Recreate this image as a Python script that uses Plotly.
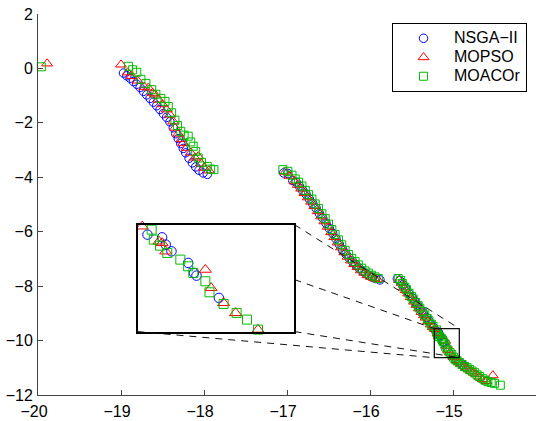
import plotly.graph_objects as go

# ---------------- data ----------------
series_names = ["NSGA\u2212II", "MOPSO", "MOACOr"]

nsga_x = [
    -18.97, -18.93, -18.89, -18.85, -18.81, -18.77, -18.73, -18.69, -18.65, -18.61,
    -18.57, -18.53, -18.49, -18.45, -18.41, -18.37, -18.34, -18.31, -18.28, -18.25,
    -18.22, -18.18, -18.14, -18.10, -18.06, -18.01, -17.96,
    -17.04, -16.99, -16.93, -16.89, -16.85, -16.81, -16.77, -16.73, -16.69, -16.65,
    -16.61, -16.57, -16.53, -16.49, -16.45, -16.41, -16.37, -16.33, -16.29, -16.25,
    -16.21, -16.17, -16.13, -16.09, -16.05, -16.01, -15.97, -15.93, -15.88,
    -15.67, -15.64, -15.60, -15.57, -15.53, -15.49, -15.46, -15.43, -15.39, -15.36,
    -15.32, -15.29, -15.26, -15.235,
    -15.206, -15.178, -15.171, -15.160, -15.128, -15.117, -15.112, -15.069,
    -14.97, -14.93, -14.89, -14.86,
]
nsga_y = [
    -0.17, -0.27, -0.36, -0.48, -0.58, -0.70, -0.84, -0.97, -1.10, -1.24,
    -1.37, -1.51, -1.66, -1.80, -1.96, -2.18, -2.40, -2.58, -2.76, -2.94,
    -3.10, -3.30, -3.47, -3.62, -3.74, -3.84, -3.89,
    -3.84, -3.86, -4.12, -4.18, -4.33, -4.49, -4.62, -4.80, -4.97, -5.13,
    -5.33, -5.50, -5.69, -5.88, -6.06, -6.26, -6.46, -6.65, -6.82, -6.97,
    -7.10, -7.22, -7.34, -7.45, -7.54, -7.61, -7.67, -7.72, -7.77,
    -7.73, -7.80, -7.95, -8.09, -8.27, -8.43, -8.56, -8.69, -8.86, -8.98,
    -9.15, -9.28, -9.41, -9.52,
    -9.66, -9.687, -9.76, -9.827, -9.943, -10.043, -10.07, -10.293,
    -10.70, -10.79, -10.88, -10.94,
]

mopso_x = [
    -19.89,
    -19.00, -18.92, -18.87, -18.80, -18.72, -18.67, -18.62, -18.59, -18.55, -18.50,
    -18.45, -18.41, -18.37, -18.35, -18.31, -18.27, -18.25, -18.21, -18.16, -18.11,
    -18.07, -18.03, -18.00, -17.94,
    -17.02, -16.97, -16.91, -16.87, -16.83, -16.79, -16.75, -16.71, -16.67, -16.63,
    -16.59, -16.55, -16.51, -16.47, -16.43, -16.39, -16.35, -16.31, -16.27, -16.23,
    -16.19, -16.15, -16.11, -16.07, -16.03, -15.99, -15.95, -15.91,
    -15.65, -15.62, -15.59, -15.57, -15.54, -15.51, -15.47, -15.44, -15.41, -15.38,
    -15.35, -15.33, -15.30, -15.27, -15.245,
    -15.216, -15.184, -15.178, -15.171, -15.095, -15.084, -15.060, -15.037, -14.994,
    -14.96, -14.93, -14.90, -14.87, -14.84, -14.81, -14.78, -14.75, -14.72, -14.68,
    -14.64, -14.60, -14.52,
]
mopso_y = [
    0.18,
    0.14, -0.15, -0.28, -0.45, -0.68, -0.71, -0.90, -0.96, -1.15, -1.32,
    -1.51, -1.70, -1.95, -2.18, -2.40, -2.60, -2.74, -2.92, -3.10, -3.28,
    -3.23, -3.50, -3.65, -3.75,
    -3.80, -3.95, -4.15, -4.28, -4.42, -4.58, -4.74, -4.90, -5.06, -5.25,
    -5.44, -5.62, -5.82, -6.02, -6.20, -6.40, -6.58, -6.76, -6.92, -7.06,
    -7.19, -7.30, -7.42, -7.51, -7.60, -7.66, -7.71, -7.75,
    -7.78, -7.88, -8.05, -8.15, -8.27, -8.41, -8.57, -8.69, -8.82, -8.95,
    -9.07, -9.16, -9.29, -9.41, -9.51,
    -9.577, -9.727, -9.743, -9.827, -10.01, -10.193, -10.343, -10.443, -10.61,
    -10.72, -10.80, -10.86, -10.93, -11.00, -11.06, -11.12, -11.18, -11.24, -11.33,
    -11.42, -11.49, -11.28,
]

moacor_x = [
    -19.96,
    -18.91, -18.86, -18.81, -18.76, -18.70, -18.63, -18.58, -18.52, -18.47, -18.43,
    -18.39, -18.35, -18.32, -18.28, -18.24, -18.19, -18.16, -18.13, -18.10, -18.07,
    -18.03, -17.96, -17.92, -17.88,
    -17.05, -16.99, -16.94, -16.90, -16.86, -16.82, -16.78, -16.74, -16.70, -16.66,
    -16.62, -16.58, -16.54, -16.50, -16.46, -16.42, -16.38, -16.34, -16.30, -16.26,
    -16.22, -16.18, -16.14, -16.10, -16.06, -16.02, -15.98, -15.94, -15.90,
    -15.66, -15.63, -15.61, -15.58, -15.56, -15.53, -15.50, -15.48, -15.45, -15.42,
    -15.40, -15.37, -15.34, -15.31, -15.29, -15.26, -15.24,
    -15.198, -15.194, -15.182, -15.168, -15.143, -15.128, -15.118, -15.095, -15.087,
    -15.060, -15.035, -15.015, -14.994,
    -14.97, -14.95, -14.92, -14.89, -14.86, -14.83, -14.80, -14.77, -14.74, -14.71,
    -14.68, -14.64, -14.61, -14.58, -14.54, -14.50, -14.43,
]
moacor_y = [
    0.06,
    0.08, -0.05, -0.14, -0.40, -0.55, -0.78, -0.95, -1.10, -1.21, -1.40,
    -1.63, -1.90, -2.10, -2.31, -2.45, -2.49, -2.70, -2.86, -3.05, -3.29,
    -3.45, -3.60, -3.70, -3.72,
    -3.72, -3.78, -3.92, -4.06, -4.18, -4.32, -4.48, -4.64, -4.80, -4.98,
    -5.15, -5.34, -5.52, -5.72, -5.92, -6.10, -6.30, -6.48, -6.68, -6.84,
    -6.98, -7.10, -7.22, -7.34, -7.44, -7.52, -7.60, -7.66, -7.72,
    -7.72, -7.79, -7.90, -8.04, -8.13, -8.26, -8.38, -8.47, -8.60, -8.72,
    -8.81, -8.93, -9.06, -9.19, -9.27, -9.40, -9.48,
    -9.61, -9.71, -9.77, -9.843, -9.91, -9.977, -10.043, -10.127, -10.237,
    -10.353, -10.443, -10.51, -10.61,
    -10.69, -10.74, -10.81, -10.88, -10.95, -11.00, -11.06, -11.12, -11.18, -11.26,
    -11.32, -11.40, -11.46, -11.51, -11.54, -11.57, -11.64,
]

x_ticks = [-20, -19, -18, -17, -16, -15, -14]
y_ticks = [-12, -10, -8, -6, -4, -2, 0, 2]

# zoom window (main-axis coords) and inset placement (main-axis coords)
zoom_x = [-15.225, -14.924]
zoom_y = [-10.63, -9.56]
inset_x = [-18.80, -16.91]
inset_y = [-9.67, -5.74]

# ---------------- styling ----------------
X_RANGE = [-20, -14]
Y_RANGE = [-12, 2]
FONT = "Liberation Sans, Arial, Helvetica, sans-serif"
colors = ["#0000ff", "#ff0000", "#00bb00"]
symbols = ["circle-open", "triangle-up-open", "square-open"]
sizes = [8.5, 9.5, 8]

data = [(nsga_x, nsga_y), (mopso_x, mopso_y), (moacor_x, moacor_y)]

fig = go.Figure()
for (xs, ys), name, c, s, sz in zip(data, series_names, colors, symbols, sizes):
    fig.add_trace(go.Scatter(
        x=xs, y=ys, mode="markers",
        name='<span style="font-size:16px">' + name + "</span>",
        cliponaxis=False,
        marker=dict(symbol=s, size=sz, color=c, line=dict(color=c, width=1)),
        xaxis="x", yaxis="y",
    ))

# inset traces: only points inside the zoom window
for (xs, ys), name, c, s, sz in zip(data, series_names, colors, symbols, sizes):
    sub = [(a, b) for a, b in zip(xs, ys)
           if zoom_x[0] <= a <= zoom_x[1] and zoom_y[0] <= b <= zoom_y[1]]
    fig.add_trace(go.Scatter(
        x=[p[0] for p in sub], y=[p[1] for p in sub], mode="markers",
        name=name, showlegend=False, cliponaxis=False,
        marker=dict(symbol=s, size=sz + 1, color=c, line=dict(color=c, width=1)),
        xaxis="x2", yaxis="y2",
    ))

def fx(v):
    return (v - X_RANGE[0]) / (X_RANGE[1] - X_RANGE[0])

def fy(v):
    return (v - Y_RANGE[0]) / (Y_RANGE[1] - Y_RANGE[0])

shapes = []
# zoom rectangle on main axes
shapes.append(dict(type="rect", xref="x", yref="y", x0=zoom_x[0], x1=zoom_x[1],
                   y0=zoom_y[0], y1=zoom_y[1], line=dict(color="#111", width=1.3),
                   layer="above"))
dash = "7px,6px"
# connecting dashed lines (corner to corner)
pairs = [
    ((inset_x[1], inset_y[1]), (zoom_x[1], zoom_y[1])),  # top-right
    ((inset_x[1], inset_y[0]), (zoom_x[1], zoom_y[0])),  # bottom-right
    ((inset_x[0], inset_y[0]), (zoom_x[0], zoom_y[0])),  # bottom-left
]
# top-left line is hidden behind the inset until it leaves the inset's right edge
tl0 = (inset_x[0], inset_y[1])
tl1 = (zoom_x[0], zoom_y[1])
t = (inset_x[1] - tl0[0]) / (tl1[0] - tl0[0])
pairs.append(((inset_x[1], tl0[1] + t * (tl1[1] - tl0[1])), tl1))
for (a, b) in pairs:
    shapes.append(dict(type="line", xref="x", yref="y", x0=a[0], y0=a[1],
                       x1=b[0], y1=b[1], line=dict(color="#111", width=1, dash=dash),
                       layer="above"))

axis_common = dict(
    showgrid=False, zeroline=False, showline=True, linecolor="#444", linewidth=1,
    ticks="inside", ticklen=5, tickcolor="#444", tickwidth=1, automargin=False,
    tickfont=dict(family=FONT, size=16, color="black"), mirror=False,
)

fig.update_layout(
    width=545, height=421,
    margin=dict(l=38, r=9, t=14, b=26, autoexpand=False),
    paper_bgcolor="white", plot_bgcolor="white",
    font=dict(family=FONT, size=15, color="black"),
    xaxis=dict(range=X_RANGE, tickvals=x_ticks, domain=[0, 1], anchor="y",
               ticklabelshift=-4, ticklabelstandoff=2, **axis_common),
    yaxis=dict(range=Y_RANGE, tickvals=y_ticks, domain=[0, 1], anchor="x",
               ticklabelstandoff=1, **axis_common),
    xaxis2=dict(range=zoom_x, domain=[fx(inset_x[0]), fx(inset_x[1])], anchor="y2",
                showgrid=False, zeroline=False, showline=True, mirror=True,
                linecolor="black", linewidth=1.6, ticks="", showticklabels=False),
    yaxis2=dict(range=zoom_y, domain=[fy(inset_y[0]), fy(inset_y[1])], anchor="x2",
                showgrid=False, zeroline=False, showline=True, mirror=True,
                linecolor="black", linewidth=1.6, ticks="", showticklabels=False),
    shapes=shapes,
    showlegend=True,
    legend=dict(x=0.982, y=0.977, xanchor="right", yanchor="top",
                bgcolor="white", bordercolor="black", borderwidth=1,
                font=dict(family=FONT, size=12.3, color="black"),
                itemwidth=51, tracegroupgap=0),
)

fig.write_html("out.html")
